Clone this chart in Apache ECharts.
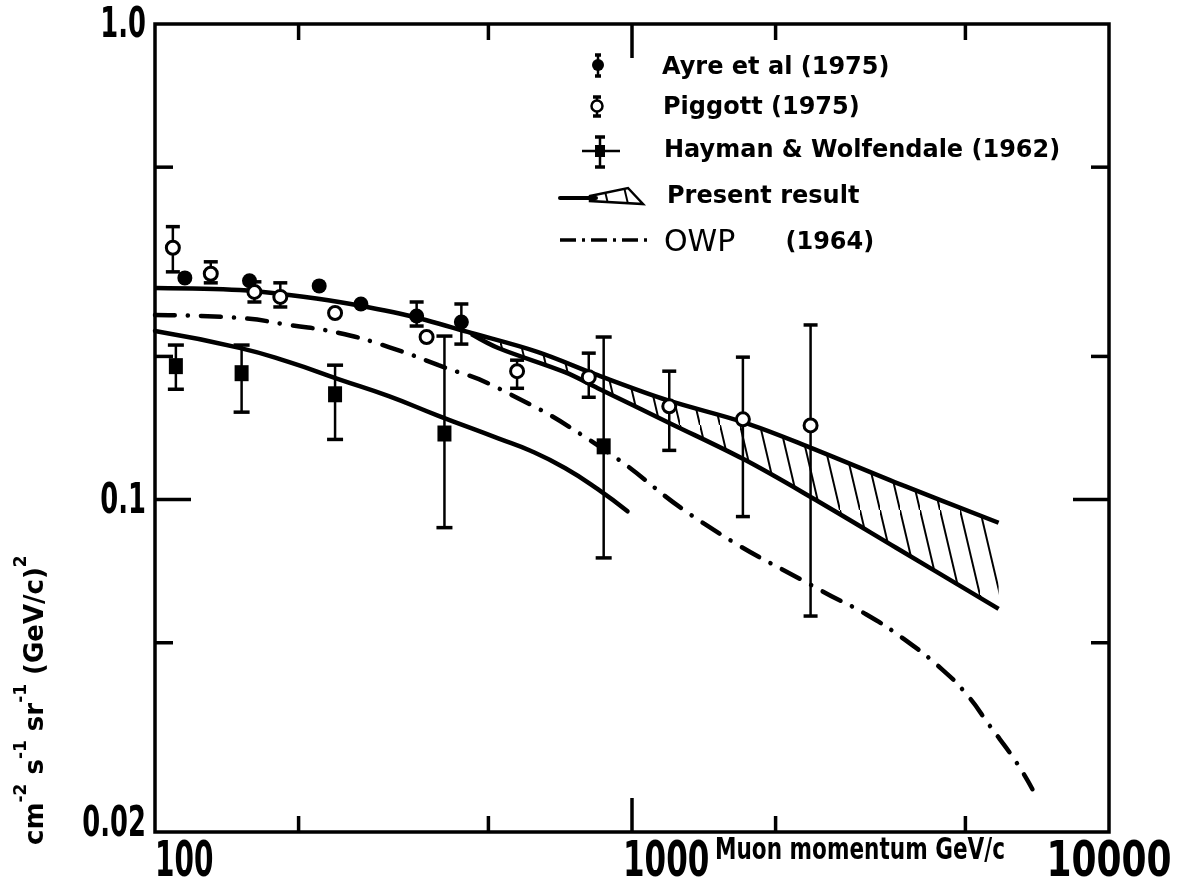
<!DOCTYPE html>
<html><head><meta charset="utf-8">
<script src="https://cdn.jsdelivr.net/npm/echarts@6/dist/echarts.min.js"></script>
<style>html,body{margin:0;padding:0;background:#fff}#c{width:1200px;height:887px}</style>
</head><body><div id="c"></div>
<script>
// ---------- data ----------
const ayreP   = [115.5, 157.8, 220.9, 270.2, 353.6, 438.8];
const ayreV   = [0.2925, 0.2884, 0.2814, 0.2578, 0.2432, 0.2362];
const ayreLo  = [null, null, null, null, 0.2317, 0.2123];
const ayreHi  = [null, null, null, null, 0.2603, 0.2578];

const piggottP  = [109.0, 130.9, 161.6, 183.1, 238.5, 371.0, 574.2, 811.6, 1197, 1708, 2368];
const piggottV  = [0.3385, 0.2984, 0.2733, 0.2668, 0.2468, 0.2197, 0.1862, 0.1809, 0.1571, 0.1475, 0.1432];
const piggottLo = [0.3012, 0.2856, 0.2603, 0.2541, null, null, 0.1714, 0.1641, 0.1269, 0.0921, 0.0569];
const piggottHi = [0.3749, 0.3162, 0.2870, 0.2856, null, null, 0.1964, 0.2032, 0.1862, 0.1993, 0.2329];

const haymanP  = [110.6, 151.9, 238.5, 404.4, 872.2];
const haymanV  = [0.1908, 0.1844, 0.1665, 0.1377, 0.1294];
const haymanLo = [0.1706, 0.1527, 0.1338, 0.0873, 0.0754];
const haymanHi = [0.2113, 0.2113, 0.1917, 0.2207, 0.2197];

const presentUpperP = [100, 150.4, 191.2, 243.1, 335.4, 460.4, 635.4, 847.7, 1186, 1716, 2357, 3701, 5869];
const presentUpperV = [0.2787, 0.2760, 0.2694, 0.2603, 0.2444, 0.2240, 0.2042, 0.1826, 0.1618, 0.1453, 0.1288, 0.1071, 0.0894];
const presentLowerP = [460.4, 524.2, 723.3, 847.7, 1203, 1716, 2379, 3578, 5869];
const presentLowerV = [0.2229, 0.2083, 0.1853, 0.1715, 0.1446, 0.1215, 0.1010, 0.0792, 0.0589];

const haymanCurveP = [100, 150.4, 191.2, 243.1, 309.1, 392.9, 524.2, 614.4, 723.3, 847.7, 978.6];
const haymanCurveV = [0.2262, 0.2085, 0.1945, 0.1790, 0.1650, 0.1500, 0.1345, 0.1265, 0.1165, 0.1052, 0.0945];

const owpP = [100, 150.4, 191.2, 243.1, 309.1, 392.9, 524.2, 847.7, 1416.6, 2496, 3084, 3737, 4484, 5056, 5594, 6368, 6910];
const owpV = [0.2444, 0.2409, 0.2329, 0.2240, 0.2093, 0.1917, 0.1715, 0.1300, 0.0890, 0.0643, 0.0575, 0.0507, 0.0438, 0.0387, 0.0337, 0.0282, 0.0246];

const xMinorTicks = [200, 500, 2000, 5000];
const xMajorTicks = [1000];
const yMinorTicks = [0.5, 0.2, 0.05];
const yMajorTicks = [0.1];
const xLabelValues = [100, 1000, 10000];
const xTickLabels  = ['100', '1000', '10000'];
const yLabelValues = [1.0, 0.1, 0.02];
const yTickLabels  = ['1.0', '0.1', '0.02'];

const legendNames = ['Ayre et al (1975)', 'Piggott (1975)', 'Hayman & Wolfendale (1962)', 'Present result'];
const xAxisTitle = 'Muon momentum GeV/c';

// ---------- drawing ----------
const X_MIN = 100, X_MAX = 10000, Y_MIN = 0.02, Y_MAX = 1;
const FONT = '"DejaVu Sans", "Liberation Sans", sans-serif';

function zip(p, v) { return p.map((x, i) => [x, v[i]]); }
function zipErr(p, v, lo, hi) {
  return p.map((x, i) => [x, v[i], lo[i] == null ? v[i] : lo[i], hi[i] == null ? v[i] : hi[i], lo[i] == null ? 0 : 1]);
}

function makeHatch() {
  const w = 20, h = 85;
  const c = document.createElement('canvas'); c.width = w; c.height = h;
  const g = c.getContext('2d'); g.strokeStyle = '#000'; g.lineWidth = 2;
  for (let k = -1; k <= 1; k++) { g.beginPath(); g.moveTo(k * w, k * h); g.lineTo((k + 1) * w, (k + 1) * h); g.stroke(); }
  return c;
}
const hatch = makeHatch();

const chart = echarts.init(document.getElementById('c'), null, { renderer: 'canvas' });

function errRender(capW) {
  return function (params, api) {
    if (api.value(4) === 0) return null;
    const lo = api.coord([api.value(0), api.value(2)]);
    const hi = api.coord([api.value(0), api.value(3)]);
    const x = lo[0];
    return { type: 'group', children: [
      { type: 'line', shape: { x1: x, y1: hi[1], x2: x, y2: lo[1] }, style: { stroke: '#000', lineWidth: 2.5 } },
      { type: 'line', shape: { x1: x - capW / 2, y1: hi[1], x2: x + capW / 2, y2: hi[1] }, style: { stroke: '#000', lineWidth: 3.5 } },
      { type: 'line', shape: { x1: x - capW / 2, y1: lo[1], x2: x + capW / 2, y2: lo[1] }, style: { stroke: '#000', lineWidth: 3.5 } }
    ]};
  };
}

function xTickRender(len) {
  return function (params, api) {
    const b = api.coord([api.value(0), Y_MIN]);
    const t = api.coord([api.value(0), Y_MAX]);
    return { type: 'group', children: [
      { type: 'line', shape: { x1: b[0], y1: b[1], x2: b[0], y2: b[1] - len }, style: { stroke: '#000', lineWidth: 3.5 } },
      { type: 'line', shape: { x1: t[0], y1: t[1], x2: t[0], y2: t[1] + len }, style: { stroke: '#000', lineWidth: 3.5 } }
    ]};
  };
}
function yTickRender(len) {
  return function (params, api) {
    const l = api.coord([X_MIN, api.value(1)]);
    const r = api.coord([X_MAX, api.value(1)]);
    return { type: 'group', children: [
      { type: 'line', shape: { x1: l[0], y1: l[1], x2: l[0] + len, y2: l[1] }, style: { stroke: '#000', lineWidth: 3.5 } },
      { type: 'line', shape: { x1: r[0], y1: r[1], x2: r[0] - len, y2: r[1] }, style: { stroke: '#000', lineWidth: 3.5 } }
    ]};
  };
}

const xLabAlign = ['left', 'left', 'center'];
const xLabDx = [0, -9, 0];
const xLabScale = [0.56, 0.62, 0.72];

const option = {
  animation: false,
  backgroundColor: '#fff',
  grid: { left: 155, right: 91, top: 24, bottom: 55, show: true, borderColor: '#000', borderWidth: 3.5, backgroundColor: 'transparent' },
  xAxis: { type: 'log', logBase: 10, min: X_MIN, max: X_MAX,
    axisLine: { show: false }, axisTick: { show: false }, axisLabel: { show: false }, splitLine: { show: false } },
  yAxis: { type: 'log', logBase: 10, min: Y_MIN, max: Y_MAX,
    axisLine: { show: false }, axisTick: { show: false }, axisLabel: { show: false }, splitLine: { show: false } },
  series: [
    { type: 'custom', name: 'band', silent: true, z: 1,
      data: [[presentLowerP[0], presentLowerV[0]]],
      renderItem: function (params, api) {
        const pts = [];
        presentUpperP.forEach((p, i) => { if (p >= presentLowerP[0]) pts.push(api.coord([p, presentUpperV[i]])); });
        for (let i = presentLowerP.length - 1; i >= 0; i--) pts.push(api.coord([presentLowerP[i], presentLowerV[i]]));
        return { type: 'polygon', shape: { points: pts }, style: { fill: { image: hatch, repeat: 'repeat' }, stroke: null } };
      } },
    { type: 'line', name: 'Present upper', data: zip(presentUpperP, presentUpperV), smooth: 0.35, showSymbol: false, z: 2,
      lineStyle: { color: '#000', width: 4.5 } },
    { type: 'line', name: 'Present lower', data: zip(presentLowerP, presentLowerV), smooth: 0.35, showSymbol: false, z: 2,
      lineStyle: { color: '#000', width: 4.5 } },
    { type: 'line', name: 'Hayman curve', data: zip(haymanCurveP, haymanCurveV), smooth: 0.5, showSymbol: false, z: 2,
      lineStyle: { color: '#000', width: 4.5, cap: 'round' } },
    { type: 'line', name: 'OWP (1964)', data: zip(owpP, owpV), smooth: 0.5, showSymbol: false, z: 2,
      lineStyle: { color: '#000', width: 4.5, type: [20, 13, 0.1, 13], cap: 'round' } },
    { type: 'custom', name: 'ayreErr', data: zipErr(ayreP, ayreV, ayreLo, ayreHi), renderItem: errRender(14), z: 3, silent: true },
    { type: 'custom', name: 'piggottErr', data: zipErr(piggottP, piggottV, piggottLo, piggottHi), renderItem: errRender(14), z: 3, silent: true },
    { type: 'custom', name: 'haymanErr', data: zipErr(haymanP, haymanV, haymanLo, haymanHi), renderItem: errRender(16), z: 3, silent: true },
    { type: 'scatter', name: legendNames[0], data: zip(ayreP, ayreV), symbol: 'circle', symbolSize: 15, z: 4, silent: true,
      itemStyle: { color: '#000', opacity: 1 } },
    { type: 'scatter', name: legendNames[1], data: zip(piggottP, piggottV), symbol: 'circle', symbolSize: 13, z: 5, silent: true,
      itemStyle: { color: '#fff', borderColor: '#000', borderWidth: 3, opacity: 1 } },
    { type: 'scatter', name: legendNames[2], data: zip(haymanP, haymanV), symbol: 'rect', symbolSize: [14, 16], z: 4, silent: true,
      itemStyle: { color: '#000', opacity: 1 } },
    { type: 'custom', name: 'xMinor', data: xMinorTicks.map(v => [v, Y_MIN]), renderItem: xTickRender(16), silent: true, z: 6 },
    { type: 'custom', name: 'xMajor', data: xMajorTicks.map(v => [v, Y_MIN]), renderItem: xTickRender(34), silent: true, z: 6 },
    { type: 'custom', name: 'yMinor', data: yMinorTicks.map(v => [X_MIN, v]), renderItem: yTickRender(18), silent: true, z: 6 },
    { type: 'custom', name: 'yMajor', data: yMajorTicks.map(v => [X_MIN, v]), renderItem: yTickRender(36), silent: true, z: 6 },
    { type: 'custom', name: 'xLabels', data: xLabelValues.map(v => [v, Y_MIN]), silent: true, z: 6,
      renderItem: function (params, api) {
        const i = params.dataIndex;
        const p = api.coord([api.value(0), Y_MIN]);
        return { type: 'text', x: p[0] + xLabDx[i], y: p[1] + 31, scaleX: xLabScale[i],
          style: { text: xTickLabels[i], fill: '#000', font: 'bold 50px ' + FONT, align: xLabAlign[i], verticalAlign: 'middle' } };
      } },
    { type: 'custom', name: 'yLabels', data: yLabelValues.map(v => [X_MIN, v]), silent: true, z: 6,
      renderItem: function (params, api) {
        const i = params.dataIndex;
        const p = api.coord([X_MIN, api.value(1)]);
        const dy = i === 2 ? -7 : 2;
        return { type: 'text', x: p[0] - 9, y: p[1] + dy, scaleX: 0.6,
          style: { text: yTickLabels[i], fill: '#000', font: 'bold 43px ' + FONT, align: 'right', verticalAlign: 'middle' } };
      } }
  ],
  graphic: [
    // axis titles
    { type: 'text', x: 715, y: 851, scaleX: 0.72, silent: true,
      style: { text: xAxisTitle, fill: '#000', font: 'bold 30px ' + FONT, align: 'left', verticalAlign: 'middle' } },
    { type: 'text', x: 31, y: 845, rotation: Math.PI / 2, silent: true,
      style: { text: '{m|cm}{s|-2}{m| s}{s|-1}{m| sr}{s|-1}{m| (GeV/c)}{s|2}', align: 'left', verticalAlign: 'middle',
        rich: { m: { font: 'bold 26px ' + FONT, fill: '#000', verticalAlign: 'bottom', lineHeight: 36 },
                s: { font: 'bold 17px ' + FONT, fill: '#000', verticalAlign: 'top', lineHeight: 36 } } } },
    // legend: Ayre
    { type: 'line', shape: { x1: 598, y1: 55, x2: 598, y2: 76 }, style: { stroke: '#000', lineWidth: 2.5 } },
    { type: 'line', shape: { x1: 595, y1: 55, x2: 601, y2: 55 }, style: { stroke: '#000', lineWidth: 3.5 } },
    { type: 'line', shape: { x1: 595, y1: 76, x2: 601, y2: 76 }, style: { stroke: '#000', lineWidth: 3.5 } },
    { type: 'circle', shape: { cx: 598, cy: 65, r: 6 }, style: { fill: '#000' } },
    { type: 'text', x: 662, y: 68, style: { text: legendNames[0], fill: '#000', font: 'bold 24px ' + FONT, align: 'left', verticalAlign: 'middle' } },
    // legend: Piggott
    { type: 'line', shape: { x1: 597, y1: 97, x2: 597, y2: 116 }, style: { stroke: '#000', lineWidth: 2.5 } },
    { type: 'line', shape: { x1: 593, y1: 97, x2: 601, y2: 97 }, style: { stroke: '#000', lineWidth: 3.5 } },
    { type: 'line', shape: { x1: 593, y1: 116, x2: 601, y2: 116 }, style: { stroke: '#000', lineWidth: 3.5 } },
    { type: 'circle', shape: { cx: 597, cy: 106, r: 5.5 }, style: { fill: '#fff', stroke: '#000', lineWidth: 2.5 } },
    { type: 'text', x: 663, y: 108, style: { text: legendNames[1], fill: '#000', font: 'bold 24px ' + FONT, align: 'left', verticalAlign: 'middle' } },
    // legend: Hayman
    { type: 'line', shape: { x1: 600, y1: 137, x2: 600, y2: 167 }, style: { stroke: '#000', lineWidth: 2.5 } },
    { type: 'line', shape: { x1: 595, y1: 137, x2: 605, y2: 137 }, style: { stroke: '#000', lineWidth: 3.5 } },
    { type: 'line', shape: { x1: 595, y1: 167, x2: 605, y2: 167 }, style: { stroke: '#000', lineWidth: 3.5 } },
    { type: 'line', shape: { x1: 582, y1: 151, x2: 620, y2: 151 }, style: { stroke: '#000', lineWidth: 2.5 } },
    { type: 'rect', shape: { x: 595, y: 145, width: 10, height: 12 }, style: { fill: '#000' } },
    { type: 'text', x: 664, y: 151, style: { text: legendNames[2], fill: '#000', font: 'bold 24px ' + FONT, align: 'left', verticalAlign: 'middle' } },
    // legend: present result
    { type: 'line', shape: { x1: 560, y1: 198, x2: 596, y2: 198 }, style: { stroke: '#000', lineWidth: 4, lineCap: 'round' } },
    { type: 'polygon', shape: { points: [[590, 196], [628, 188], [643, 204], [590, 201]] },
      style: { fill: { image: hatch, repeat: 'repeat' }, stroke: '#000', lineWidth: 2.5 } },
    { type: 'text', x: 667, y: 197, style: { text: legendNames[3], fill: '#000', font: 'bold 24px ' + FONT, align: 'left', verticalAlign: 'middle' } },
    // legend: OWP
    { type: 'line', shape: { x1: 560, y1: 240, x2: 647, y2: 240 }, style: { stroke: '#000', lineWidth: 3.5, lineDash: [16, 6, 3, 6] } },
    { type: 'text', x: 664, y: 243, style: { text: '{a|OWP}{b|      (1964)}', align: 'left', verticalAlign: 'middle',
      rich: { a: { font: '30px ' + FONT, fill: '#000' }, b: { font: 'bold 24px ' + FONT, fill: '#000' } } } }
  ]
};
chart.setOption(option);
</script></body></html>
